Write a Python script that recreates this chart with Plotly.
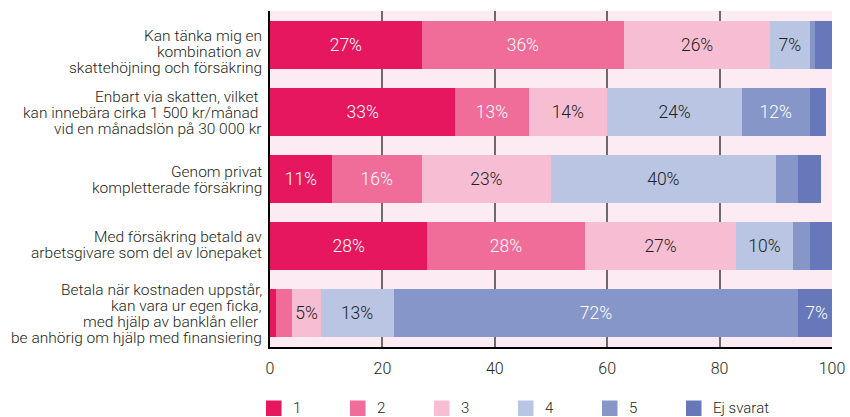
import plotly.graph_objects as go

categories = [
    "Kan tänka mig en<br>kombination av<br>skattehöjning och försäkring",
    "Enbart via skatten, vilket <br>kan innebära cirka 1 500 kr/månad <br>vid en månadslön på 30 000 kr",
    "Genom privat<br>kompletterade försäkring",
    "Med försäkring betald av<br>arbetsgivare som del av lönepaket",
    "Betala när kostnaden uppstår,<br>kan vara ur egen ficka,<br>med hjälp av banklån eller <br>be anhörig om hjälp med finansiering",
]
series_names = ["1", "2", "3", "4", "5", "Ej svarat"]
values_1 = [27, 33, 11, 28, 1]
values_2 = [36, 13, 16, 28, 3]
values_3 = [26, 14, 23, 27, 5]
values_4 = [7, 24, 40, 10, 13]
values_5 = [1, 12, 4, 3, 72]
values_ej = [3, 3, 4, 4, 6.5]
labels_1 = ["27%", "33%", "11%", "28%", ""]
labels_2 = ["36%", "13%", "16%", "28%", ""]
labels_3 = ["26%", "14%", "23%", "27%", "5%"]
labels_4 = ["7%", "24%", "40%", "10%", "13%"]
labels_5 = ["", "12%", "", "", "72%"]
labels_ej = ["", "", "", "", "7%"]
x_ticks = [0, 20, 40, 60, 80, 100]

series_values = [values_1, values_2, values_3, values_4, values_5, values_ej]
series_labels = [labels_1, labels_2, labels_3, labels_4, labels_5, labels_ej]
colors = ["#E6175F", "#F06D99", "#F7BED3", "#B9C5E2", "#8796C8", "#6678B9"]
text_colors = ["white", "white", "#231F20", "#231F20", "white", "white"]
label_shift = [-7, -1, -1, 1, -1]  # pixel nudges of category labels (style only)

FONT = "Roboto"
TXT = "#231F20"

fig = go.Figure()
for name, vals, labs, col, tcol in zip(series_names, series_values, series_labels, colors, text_colors):
    fig.add_trace(go.Bar(
        y=categories, x=vals, name=name, orientation="h",
        marker=dict(color=col, line=dict(width=0)),
        text=labs, textposition="inside", insidetextanchor="middle",
        textangle=0, constraintext="none",
        textfont=dict(family=FONT, size=17.5, color=tcol, weight=300),
        showlegend=False, hoverinfo="skip",
    ))

W, H = 850, 417
L, R, T, B = 270, 18, 11, 70
pw, ph = W - L - R, H - T - B

# category labels, one annotation per line for tight leading
LEAD = 16
for cat, sh in zip(categories, label_shift):
    lines = cat.split("<br>")
    n = len(lines)
    for j, line in enumerate(lines):
        fig.add_annotation(xref="paper", yref="y", x=0, y=cat, text=line,
                           showarrow=False, xanchor="right", yanchor="middle",
                           xshift=-6, yshift=((n - 1) / 2 - j) * LEAD + sh,
                           font=dict(family=FONT, size=15.5, color=TXT, weight=300))

# manual legend (larger squares as in the reference); pixel positions on the page
for i, (name, col) in enumerate(zip(series_names, colors)):
    px0 = 266 + i * 84
    py_top, py_bot, py_mid = 400.5, 416, 408
    fig.add_shape(type="rect", xref="paper", yref="paper",
                  x0=(px0 - L) / pw, x1=(px0 + 15.5 - L) / pw,
                  y0=(H - B - py_top) / ph, y1=(H - B - py_bot) / ph,
                  fillcolor=col, line=dict(width=0))
    fig.add_annotation(xref="paper", yref="paper", x=(px0 + 25 - L) / pw,
                       y=(H - B - py_mid) / ph, text=name, showarrow=False,
                       xanchor="left", yanchor="middle",
                       font=dict(family=FONT, size=15, color=TXT, weight=300))

fig.update_layout(
    width=W, height=H,
    margin=dict(l=L, r=R, t=T, b=B, autoexpand=False),
    barmode="stack", bargap=0.286,
    paper_bgcolor="white", plot_bgcolor="#FCEBF3",
    xaxis=dict(range=[0, 100], tickvals=x_ticks, showgrid=True,
               gridcolor="#6D6A6C", gridwidth=1.5, zeroline=False,
               showline=True, linecolor="black", linewidth=2,
               ticks="", tickfont=dict(family=FONT, size=16, color=TXT, weight=300),
               ticklabelstandoff=6, layer="below traces", automargin=False),
    yaxis=dict(categoryorder="array", categoryarray=categories, autorange="reversed",
               showline=True, linecolor="black", linewidth=2, ticks="",
               showgrid=False, showticklabels=False, automargin=False),
)

fig.write_html(
    "out.html",
    config={"displayModeBar": False},
    post_script="document.body.style.margin='0';document.body.style.overflow='hidden';",
)
